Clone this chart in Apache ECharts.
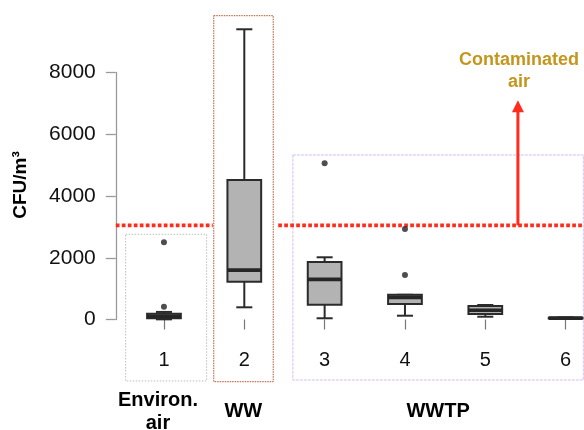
<!DOCTYPE html>
<html>
<head>
<meta charset="utf-8">
<script src="https://cdn.jsdelivr.net/npm/echarts@6/dist/echarts.min.js"></script>
<style>html,body{margin:0;padding:0;background:#fff;}#c{width:584px;height:430px;}</style>
</head>
<body>
<div id="c"></div>
<script>
// ---- data ----
const categories = ['1', '2', '3', '4', '5', '6'];
const whiskerLow  = [5,   395,  40,  123, 90,  20];
const quartile1   = [40,  1225, 480, 500, 175, 35];
const medians     = [100, 1600, 1300, 715, 300, 45];
const quartile3   = [190, 4520, 1860, 800, 435, 55];
const whiskerHigh = [245, 9400, 2015, 800, 470, 65];
const outlierCat  = [0, 0, 2, 3, 3];
const outlierVal  = [2500, 415, 5060, 2930, 1440];
const yTicks = [0, 2000, 4000, 6000, 8000];
const threshold = 3050;
const arrowTop = 7100;
const groupNames = ['Environ.\nair', 'WW', 'WWTP'];
const annotation = 'Contaminated\nair';
const yName = 'CFU/m³';

const FONT = "'Liberation Sans', Arial, Helvetica, sans-serif";
const chart = echarts.init(document.getElementById('c'), null, {renderer: 'canvas'});

const boxData = categories.map((c, i) => [i, whiskerLow[i], quartile1[i], medians[i], quartile3[i], whiskerHigh[i]]);
const outlierData = outlierCat.map((c, k) => [c, outlierVal[k]]);

chart.setOption({
  animation: false,
  backgroundColor: '#fff',
  grid: {left: 123.8, width: 482, top: 72.5, height: 247, containLabel: false, outerBoundsMode: 'none'},
  xAxis: {
    type: 'category', data: categories, boundaryGap: true, offset: 13.5,
    axisLine: {show: false},
    axisTick: {show: true, alignWithLabel: true, length: 10, lineStyle: {color: '#777', width: 1.2}},
    axisLabel: {color: '#111', fontSize: 20, fontFamily: FONT, margin: 17},
    splitLine: {show: false}
  },
  yAxis: {
    type: 'value', min: yTicks[0], max: yTicks[yTicks.length - 1], interval: yTicks[1] - yTicks[0],
    offset: 8,
    axisLine: {show: true, lineStyle: {color: '#9a9a9a', width: 1.3}},
    axisTick: {show: true, length: 10, lineStyle: {color: '#9a9a9a', width: 1.3}},
    axisLabel: {color: '#111', fontSize: 21, fontFamily: FONT, margin: 20, formatter: v => String(v)},
    splitLine: {show: false}
  },
  series: [
    {
      type: 'custom', clip: false, z: 3,
      data: boxData,
      encode: {x: 0, y: [1, 2, 3, 4, 5]},
      renderItem: function (params, api) {
        const i = api.value(0);
        const x = api.coord([i, api.value(3)])[0];
        const band = api.size([1, 0])[0];
        const hw = band * 0.21, cw = band * 0.1;
        const y = k => api.coord([i, api.value(k)])[1];
        const ls = {stroke: '#2b2b2b', lineWidth: 2};
        const yMin = y(1), yQ1 = y(2), yMed = y(3), yQ3 = y(4), yMax = y(5);
        return {
          type: 'group',
          children: [
            {type: 'line', shape: {x1: x, y1: yQ3, x2: x, y2: yMax}, style: ls},
            {type: 'line', shape: {x1: x, y1: yQ1, x2: x, y2: yMin}, style: ls},
            {type: 'line', shape: {x1: x - cw, y1: yMax, x2: x + cw, y2: yMax}, style: ls},
            {type: 'line', shape: {x1: x - cw, y1: yMin, x2: x + cw, y2: yMin}, style: ls},
            {type: 'rect', shape: {x: x - hw, y: yQ3, width: hw * 2, height: yQ1 - yQ3},
             style: {fill: '#b3b3b3', stroke: '#2b2b2b', lineWidth: 2}},
            {type: 'line', shape: {x1: x - hw, y1: yMed, x2: x + hw, y2: yMed},
             style: {stroke: '#262626', lineWidth: 3.6}}
          ]
        };
      }
    },
    {
      type: 'scatter', clip: false, z: 4,
      data: outlierData, symbol: 'circle', symbolSize: 6,
      itemStyle: {color: '#222'}
    }
  ]
});

function drawAnnotations() {
  const px = (i, v) => chart.convertToPixel({gridIndex: 0}, [i, v]);
  const c = categories.map((_, i) => px(i, 0)[0]);
  const band = c[1] - c[0];
  const yAt = v => px(0, v)[1];
  const axisX = c[0] - band / 2 - 8;

  const env = {x1: c[0] - 0.477 * band, x2: c[0] + 0.531 * band, y1: yAt(2760), y2: yAt(-1990)};
  const ww  = {x1: c[1] - 0.38 * band,  x2: c[1] + 0.36 * band,  y1: yAt(9840), y2: yAt(-2015)};
  const wwtp = {x1: c[2] - 0.395 * band, x2: c[5] + 0.22 * band, y1: yAt(5328), y2: yAt(-1960)};
  const rect = (r, color, dash) => ({
    type: 'rect', z: 1, silent: true,
    shape: {x: r.x1, y: r.y1, width: r.x2 - r.x1, height: r.y2 - r.y1},
    style: {fill: 'none', stroke: color, lineWidth: 1, lineDash: dash}
  });

  const ty = yAt(threshold);
  const red = '#ff2b1c';
  const dash = {stroke: red, lineWidth: 3.6, lineDash: [3.7, 2.3]};
  const ax = c[4] + 0.406 * band;
  const tip = yAt(arrowTop);

  const groupCenters = [c[0] - 6, c[1] - 1, (wwtp.x1 + wwtp.x2) / 2];

  chart.setOption({
    graphic: [
      rect(env, '#bdbdbd', [1.5, 1.5]),
      rect(ww, '#b5502f', [1.5, 1]),
      rect(wwtp, '#d6bdf0', [3, 1]),
      {type: 'line', z: 2, silent: true, shape: {x1: axisX, y1: ty, x2: ww.x1 - 1, y2: ty}, style: dash},
      {type: 'line', z: 2, silent: true, shape: {x1: ww.x2 + 5, y1: ty, x2: 590, y2: ty}, style: dash},
      {type: 'line', z: 2, silent: true, shape: {x1: ax, y1: ty, x2: ax, y2: tip + 10}, style: {stroke: red, lineWidth: 3}},
      {type: 'polygon', z: 2, silent: true, shape: {points: [[ax, tip], [ax - 6, tip + 12], [ax + 6, tip + 12]]}, style: {fill: red}},
      {type: 'text', z: 5, x: ax + 1, y: tip - 29,
       style: {text: annotation, font: 'bold 18px ' + FONT, fill: '#c4961d', align: 'center', verticalAlign: 'middle', lineHeight: 22}},
      {type: 'text', z: 5, x: 21, y: 185, rotation: Math.PI / 2,
       style: {text: yName, font: 'bold 19px ' + FONT, fill: '#000', align: 'center', verticalAlign: 'middle'}},
      {type: 'text', z: 5, x: groupCenters[0], y: 411.5,
       style: {text: groupNames[0], font: 'bold 20px ' + FONT, fill: '#000', align: 'center', verticalAlign: 'middle', lineHeight: 23}},
      {type: 'text', z: 5, x: groupCenters[1], y: 411.7,
       style: {text: groupNames[1], font: 'bold 20px ' + FONT, fill: '#000', align: 'center', verticalAlign: 'middle'}},
      {type: 'text', z: 5, x: groupCenters[2], y: 411.7,
       style: {text: groupNames[2], font: 'bold 20px ' + FONT, fill: '#000', align: 'center', verticalAlign: 'middle'}}
    ]
  });
}
drawAnnotations();
</script>
</body>
</html>
